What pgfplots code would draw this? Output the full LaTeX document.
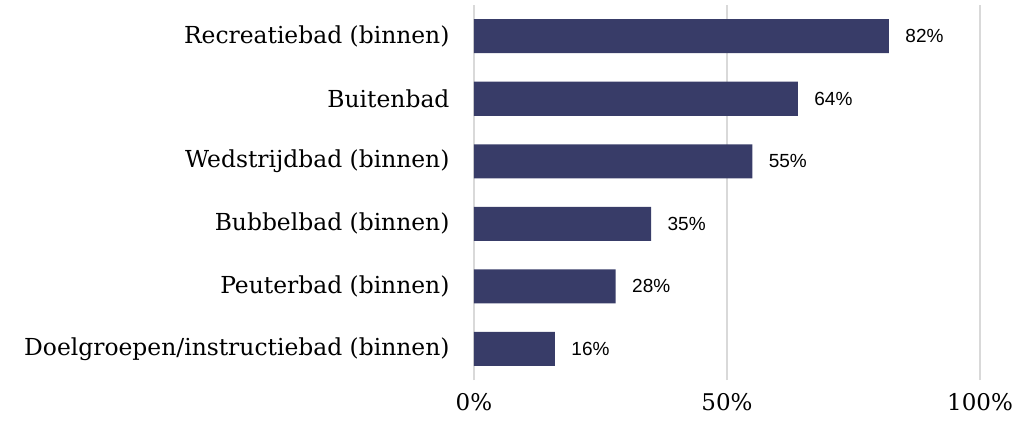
\documentclass[border=0pt]{standalone}
\usepackage{pgfplots}
\pgfplotsset{compat=1.18}
\usepackage{fontspec}
\setmainfont{DejaVu Serif}
\newfontfamily\valfont{Liberation Sans}
\definecolor{barc}{HTML}{383C68}
\definecolor{gridc}{HTML}{D9D9D9}
\begin{document}
\begin{tikzpicture}
\useasboundingbox (-474pt,-44pt) rectangle (559pt,380pt);
\begin{axis}[
  at={(0pt,0pt)}, anchor=south west,
  scale only axis, width=506pt, height=375pt,
  xbar, bar width=34pt,
  xmin=0, xmax=100, ymin=-0.5, ymax=5.5,
  axis line style={draw=none},
  xtick={0,50,100},
  xticklabels={0\%,50\%,100\%},
  ytick={0,1,2,3,4,5},
  yticklabels={Doelgroepen/instructiebad (binnen),Peuterbad (binnen),Bubbelbad (binnen),Wedstrijdbad (binnen),Buitenbad,Recreatiebad (binnen)},
  major tick length=0pt,
  /pgf/number format/assume math mode=true,
  xmajorgrids, grid style={gridc, line width=1.2pt},
  yticklabel style={font=\fontsize{23.4}{25}\selectfont, xshift=-21pt},
  xticklabel style={font=\fontsize{23}{25}\selectfont, yshift=-10pt},
  nodes near coords={\pgfmathprintnumber{\pgfplotspointmeta}\%},
  nodes near coords style={font=\valfont\fontsize{19}{21}\selectfont, anchor=west, xshift=13pt, text=black},
  point meta=x,
  clip=false,
]
\addplot[fill=barc, draw=none] coordinates {(16,0) (28,1) (35,2) (55,3) (64,4) (82,5)};
\end{axis}
\end{tikzpicture}
\end{document}
